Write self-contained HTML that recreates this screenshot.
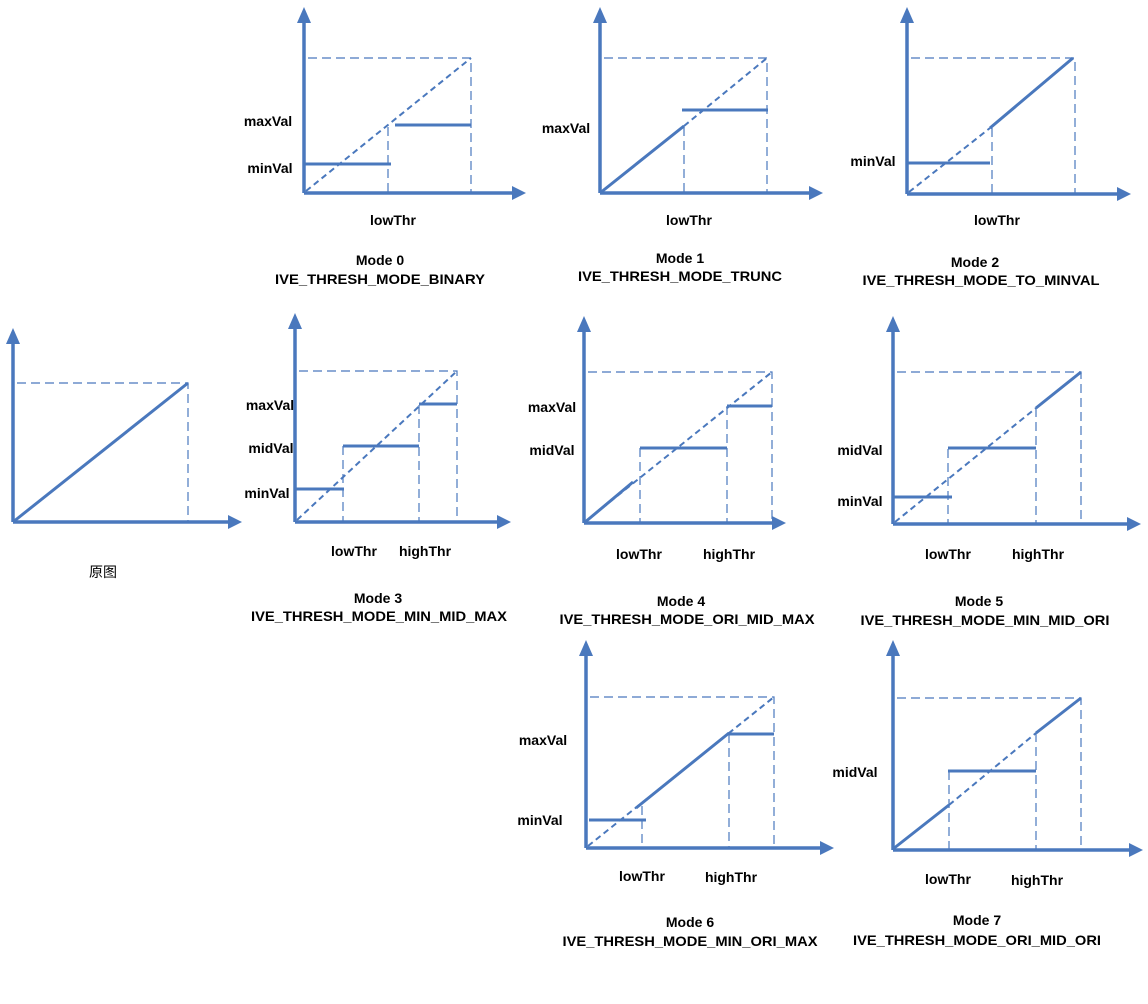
<!DOCTYPE html>
<html><head><meta charset="utf-8"><style>
html,body{margin:0;padding:0;background:#fff;}
svg{display:block;}
text{font-family:"Liberation Sans","Noto Sans CJK SC",sans-serif;font-weight:bold;font-size:14px;fill:#000;}
.ax{stroke:#4a78bd;stroke-width:3.5;fill:none;}
.ah{fill:#4a78bd;}
.s{stroke:#4a78bd;stroke-width:3;fill:none;}
.d{stroke:#4a78bd;stroke-width:1.2;fill:none;stroke-dasharray:9,5;}
.dg{stroke:#4a78bd;stroke-width:2;fill:none;stroke-dasharray:6,4;}
</style></head><body>
<svg width="1148" height="1004" viewBox="0 0 1148 1004" xmlns="http://www.w3.org/2000/svg">
<!-- Original -->
<g>
<path class="ax" d="M13,522 V340 M13,522 H230"/>
<polygon class="ah" points="13,328 6,344 20,344"/>
<polygon class="ah" points="242,522 228,515 228,529"/>
<path class="d" d="M17,383 H188 V522"/>
<path class="s" d="M13,522 L188,383"/>
<text x="103" y="577" text-anchor="middle" style="font-weight:normal">原图</text>
</g>
<!-- Mode 0 -->
<g>
<path class="ax" d="M304,193 V20 M304,193 H513"/>
<polygon class="ah" points="304,7 297,23 311,23"/>
<polygon class="ah" points="526,193 512,186 512,200"/>
<path class="d" d="M308,58 H471 V193 M388,127 V193"/>
<path class="dg" d="M306,191 L471,58"/>
<path class="s" d="M304,164 H391 M395,125 H471"/>
<text x="268" y="126" text-anchor="middle">maxVal</text>
<text x="270" y="173" text-anchor="middle">minVal</text>
<text x="393" y="225" text-anchor="middle">lowThr</text>
<text x="380" y="265" text-anchor="middle">Mode 0</text>
<text x="380" y="284" text-anchor="middle" textLength="210" lengthAdjust="spacingAndGlyphs">IVE_THRESH_MODE_BINARY</text>
</g>
<!-- Mode 1 -->
<g>
<path class="ax" d="M600,193 V20 M600,193 H810"/>
<polygon class="ah" points="600,7 593,23 607,23"/>
<polygon class="ah" points="823,193 809,186 809,200"/>
<path class="d" d="M604,58 H767 V193 M684,127 V193"/>
<path class="dg" d="M684,126 L767,58"/>
<path class="s" d="M600,193 L684,126 M682,110 H768"/>
<text x="566" y="133" text-anchor="middle">maxVal</text>
<text x="689" y="225" text-anchor="middle">lowThr</text>
<text x="680" y="263" text-anchor="middle">Mode 1</text>
<text x="680" y="281" text-anchor="middle" textLength="204" lengthAdjust="spacingAndGlyphs">IVE_THRESH_MODE_TRUNC</text>
</g>
<!-- Mode 2 -->
<g>
<path class="ax" d="M907,194 V20 M907,194 H1118"/>
<polygon class="ah" points="907,7 900,23 914,23"/>
<polygon class="ah" points="1131,194 1117,187 1117,201"/>
<path class="d" d="M911,58 H1075 V194 M992,128 V194"/>
<path class="dg" d="M909,192 L990,128"/>
<path class="s" d="M907,163 H990 M990,128 L1073,58"/>
<text x="873" y="166" text-anchor="middle">minVal</text>
<text x="997" y="225" text-anchor="middle">lowThr</text>
<text x="975" y="267" text-anchor="middle">Mode 2</text>
<text x="981" y="285" text-anchor="middle" textLength="237" lengthAdjust="spacingAndGlyphs">IVE_THRESH_MODE_TO_MINVAL</text>
</g>
<!-- Mode 3 -->
<g>
<path class="ax" d="M295,522 V326 M295,522 H498"/>
<polygon class="ah" points="295,313 288,329 302,329"/>
<polygon class="ah" points="511,522 497,515 497,529"/>
<path class="d" d="M299,371 H457 V522 M343,446 V522 M419,405 V522"/>
<path class="dg" d="M297,520 L457,371"/>
<path class="s" d="M295,489 H344 M343,446 H419 M419,404 H457"/>
<text x="270" y="410" text-anchor="middle">maxVal</text>
<text x="271" y="453" text-anchor="middle">midVal</text>
<text x="267" y="498" text-anchor="middle">minVal</text>
<text x="354" y="556" text-anchor="middle">lowThr</text>
<text x="425" y="556" text-anchor="middle">highThr</text>
<text x="378" y="603" text-anchor="middle">Mode 3</text>
<text x="379" y="621" text-anchor="middle" textLength="256" lengthAdjust="spacingAndGlyphs">IVE_THRESH_MODE_MIN_MID_MAX</text>
</g>
<!-- Mode 4 -->
<g>
<path class="ax" d="M584,523 V329 M584,523 H773"/>
<polygon class="ah" points="584,316 577,332 591,332"/>
<polygon class="ah" points="786,523 772,516 772,530"/>
<path class="d" d="M588,372 H772 V523 M640,448 V523 M727,406 V523"/>
<path class="dg" d="M586,521 L772,372"/>
<path class="s" d="M584,523 L633,482 M640,448 H727 M727,406 H772"/>
<text x="552" y="412" text-anchor="middle">maxVal</text>
<text x="552" y="455" text-anchor="middle">midVal</text>
<text x="639" y="559" text-anchor="middle">lowThr</text>
<text x="729" y="559" text-anchor="middle">highThr</text>
<text x="681" y="606" text-anchor="middle">Mode 4</text>
<text x="687" y="624" text-anchor="middle" textLength="255" lengthAdjust="spacingAndGlyphs">IVE_THRESH_MODE_ORI_MID_MAX</text>
</g>
<!-- Mode 5 -->
<g>
<path class="ax" d="M893,524 V329 M893,524 H1128"/>
<polygon class="ah" points="893,316 886,332 900,332"/>
<polygon class="ah" points="1141,524 1127,517 1127,531"/>
<path class="d" d="M897,372 H1081 V524 M948,449 V524 M1036,408 V524"/>
<path class="dg" d="M895,522 L1036,408"/>
<path class="s" d="M893,497 H952 M948,448 H1036 M1036,408 L1081,372"/>
<text x="860" y="455" text-anchor="middle">midVal</text>
<text x="860" y="506" text-anchor="middle">minVal</text>
<text x="948" y="559" text-anchor="middle">lowThr</text>
<text x="1038" y="559" text-anchor="middle">highThr</text>
<text x="979" y="606" text-anchor="middle">Mode 5</text>
<text x="985" y="625" text-anchor="middle" textLength="249" lengthAdjust="spacingAndGlyphs">IVE_THRESH_MODE_MIN_MID_ORI</text>
</g>
<!-- Mode 6 -->
<g>
<path class="ax" d="M586,848 V653 M586,848 H821"/>
<polygon class="ah" points="586,640 579,656 593,656"/>
<polygon class="ah" points="834,848 820,841 820,855"/>
<path class="d" d="M590,697 H774 V848 M642,806 V848 M729,734 V848"/>
<path class="dg" d="M588,846 L774,697"/>
<path class="s" d="M589,820 H646 M636,808 L729,733 M729,734 H774"/>
<text x="543" y="745" text-anchor="middle">maxVal</text>
<text x="540" y="825" text-anchor="middle">minVal</text>
<text x="642" y="881" text-anchor="middle">lowThr</text>
<text x="731" y="882" text-anchor="middle">highThr</text>
<text x="690" y="927" text-anchor="middle">Mode 6</text>
<text x="690" y="946" text-anchor="middle" textLength="255" lengthAdjust="spacingAndGlyphs">IVE_THRESH_MODE_MIN_ORI_MAX</text>
</g>
<!-- Mode 7 -->
<g>
<path class="ax" d="M893,850 V653 M893,850 H1130"/>
<polygon class="ah" points="893,640 886,656 900,656"/>
<polygon class="ah" points="1143,850 1129,843 1129,857"/>
<path class="d" d="M897,698 H1081 V850 M949,771 V850 M1036,733 V850"/>
<path class="dg" d="M949,805 L1036,733"/>
<path class="s" d="M893,849 L949,805 M948,771 H1036 M1036,733 L1081,698"/>
<text x="855" y="777" text-anchor="middle">midVal</text>
<text x="948" y="884" text-anchor="middle">lowThr</text>
<text x="1037" y="885" text-anchor="middle">highThr</text>
<text x="977" y="925" text-anchor="middle">Mode 7</text>
<text x="977" y="945" text-anchor="middle" textLength="248" lengthAdjust="spacingAndGlyphs">IVE_THRESH_MODE_ORI_MID_ORI</text>
</g>
</svg>
</body></html>
